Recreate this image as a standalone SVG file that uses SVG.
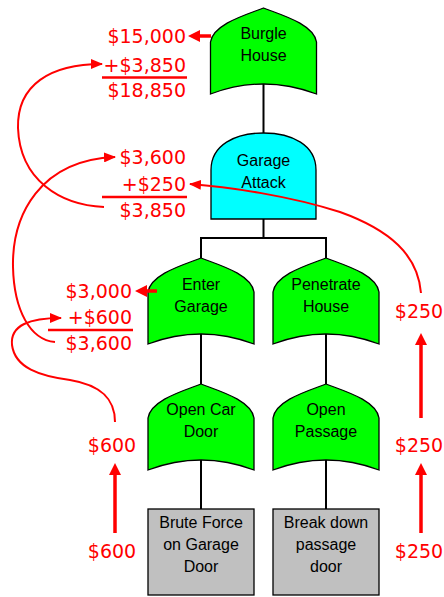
<svg xmlns="http://www.w3.org/2000/svg" width="444" height="597" viewBox="0 0 444 597">
<style>
.gate{stroke:#000;stroke-width:1.3}
.or{fill:#00ff00}
.and{fill:#00ffff}
.box{fill:#c0c0c0}
.lbl{font-family:"Liberation Sans",Arial,sans-serif;font-size:16px;fill:#000;text-anchor:middle}
.cost{font-family:"DejaVu Sans",sans-serif;font-size:19px;fill:#ff0000;text-anchor:end}
.mid{text-anchor:middle}
.wire{stroke:#000;stroke-width:2;fill:none}
.sum{stroke:#ff0000;stroke-width:2.5}
.curve{stroke:#ff0000;stroke-width:2;fill:none;marker-end:url(#hs)}
.thick{stroke:#ff0000;stroke-width:3.5;fill:none;marker-end:url(#hb)}
</style>
<defs>
<path id="orShape" d="M0,0 C-18,7 -50,16 -53,34 V86 Q0,66 53,86 V34 C50,16 18,7 0,0 Z"/>
<marker id="hs" markerUnits="userSpaceOnUse" markerWidth="12" markerHeight="10" refX="11" refY="5" orient="auto">
<path d="M0,0 L12,5 L0,10 Z" fill="#ff0000"/>
</marker>
<marker id="hb" markerUnits="userSpaceOnUse" markerWidth="12" markerHeight="12" refX="0" refY="6" orient="auto">
<path d="M0,0 L12,6 L0,12 Z" fill="#ff0000"/>
</marker>
</defs>

<g id="connectors">
<path class="wire" d="M263.5,84 V133"/>
<path class="wire" d="M263.5,219 V238 M201,238 H326 M201,237 V258 M326,237 V258"/>
<path class="wire" d="M201,334 V384 M326,334 V384"/>
<path class="wire" d="M201,460 V509 M326,460 V509"/>
</g>

<g id="burgle-house">
<use href="#orShape" class="gate or" transform="translate(263.5,8)"/>
<text class="lbl" x="263.5" y="39">Burgle</text>
<text class="lbl" x="263.5" y="61">House</text>
</g>

<g id="garage-attack">
<path class="gate and" d="M211,219 V170 C211,145 235,133 263.5,133 C292,133 316,145 316,170 V219 Z"/>
<text class="lbl" x="263.5" y="166">Garage</text>
<text class="lbl" x="263.5" y="188">Attack</text>
</g>

<g id="enter-garage">
<use href="#orShape" class="gate or" transform="translate(201,258)"/>
<text class="lbl" x="201" y="290">Enter</text>
<text class="lbl" x="201" y="312">Garage</text>
</g>

<g id="penetrate-house">
<use href="#orShape" class="gate or" transform="translate(326,258)"/>
<text class="lbl" x="326" y="290">Penetrate</text>
<text class="lbl" x="326" y="312">House</text>
</g>

<g id="open-car-door">
<use href="#orShape" class="gate or" transform="translate(201,384)"/>
<text class="lbl" x="201" y="415">Open Car</text>
<text class="lbl" x="201" y="437">Door</text>
</g>

<g id="open-passage">
<use href="#orShape" class="gate or" transform="translate(326,384)"/>
<text class="lbl" x="326" y="415">Open</text>
<text class="lbl" x="326" y="437">Passage</text>
</g>

<g id="brute-force">
<rect class="gate box" x="148" y="509" width="106" height="86"/>
<text class="lbl" x="201" y="528">Brute Force</text>
<text class="lbl" x="201" y="550">on Garage</text>
<text class="lbl" x="201" y="572">Door</text>
</g>

<g id="break-down">
<rect class="gate box" x="273" y="509" width="106" height="86"/>
<text class="lbl" x="326" y="528">Break down</text>
<text class="lbl" x="326" y="550">passage</text>
<text class="lbl" x="326" y="572">door</text>
</g>

<g id="costs">
<text class="cost" x="186" y="43">$15,000</text>
<text class="cost" x="186" y="72">+$3,850</text>
<line class="sum" x1="102" y1="77.5" x2="187" y2="77.5"/>
<text class="cost" x="186" y="97">$18,850</text>

<text class="cost" x="186" y="164">$3,600</text>
<text class="cost" x="186" y="191">+$250</text>
<line class="sum" x1="102" y1="197" x2="187" y2="197"/>
<text class="cost" x="186" y="217">$3,850</text>

<text class="cost" x="132" y="298">$3,000</text>
<text class="cost" x="132" y="324">+$600</text>
<line class="sum" x1="48" y1="330" x2="133" y2="330"/>
<text class="cost" x="132" y="350">$3,600</text>

<text class="cost mid" x="419" y="318">$250</text>
<text class="cost mid" x="419" y="452">$250</text>
<text class="cost mid" x="419" y="558">$250</text>
<text class="cost mid" x="112" y="452">$600</text>
<text class="cost mid" x="112" y="558">$600</text>
</g>

<g id="cost-arrows">
<line class="thick" x1="211" y1="36" x2="200" y2="36"/>
<line class="thick" x1="157" y1="291" x2="147" y2="291"/>
<line class="thick" x1="115" y1="533" x2="115" y2="475"/>
<line class="thick" x1="421" y1="533" x2="421" y2="475"/>
<line class="thick" x1="421" y1="418" x2="421" y2="345"/>
<path class="curve" d="M115,422 C115,398 100,385 70,380 C40,376 15,368 12,345 C10,325 30,318 61,318"/>
<path class="curve" d="M55,342 C30,340 14,310 13,267 C12,215 40,160 115,157"/>
<path class="curve" d="M104,207 C60,205 20,180 18,128 C17,85 50,64 102,64"/>
<path class="curve" d="M421,293 C418,255 390,230 340,212 C290,196 230,187 190,184"/>
</g>
</svg>
